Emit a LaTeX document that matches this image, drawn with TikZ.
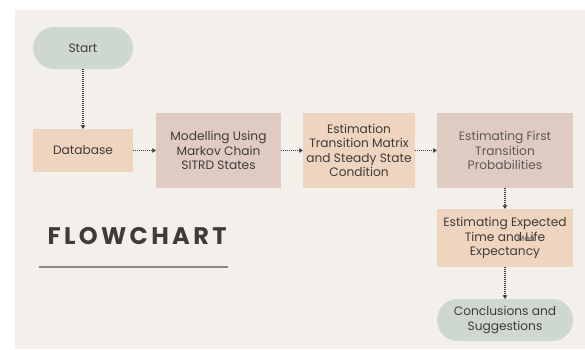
\documentclass[tikz,border=0pt]{standalone}
\usepackage{fontspec}
\setmainfont{Poppins}
\newfontfamily\titlefont[LetterSpace=14]{Poppins}
\usetikzlibrary{arrows.meta}
\definecolor{pagebg}{HTML}{F3EFEA}
\definecolor{peach}{HTML}{EFD4BF}
\definecolor{rose}{HTML}{E0CBC2}
\definecolor{sage}{HTML}{CED8CF}
\definecolor{ink}{HTML}{3E3C3A}
\definecolor{softink}{HTML}{5C5957}
\definecolor{rulegray}{HTML}{8A8886}
\begin{document}
\begin{tikzpicture}[x=1pt,y=-1pt,
  box/.style={rectangle, inner sep=0pt, align=center, text=ink,
    font=\fontsize{12.2}{14.4}\selectfont},
  terminal/.style={box, fill=sage, rounded corners=21pt},
  flow/.style={draw=ink, line width=1.1pt, dash pattern=on 1pt off 1pt,
    -{Triangle[length=3.5pt,width=4.5pt]}}]
  % page and panel
  \fill[white] (0,0) rectangle (585,349);
  \useasboundingbox (0,0) rectangle (585,349);
  \fill[pagebg] (15,10) rectangle (585,349);

  % process steps
  \node[terminal, minimum width=100pt, minimum height=42pt] (start) at (83,48) {Start};
  \node[box, fill=peach, minimum width=100pt, minimum height=43pt] (db) at (83,150.5) {Database};
  \node[box, fill=rose, minimum width=125pt, minimum height=75pt] (model) at (218.5,150.5)
    {Modelling Using\\Markov Chain\\SITRD States};
  \node[box, fill=peach, minimum width=112pt, minimum height=75pt] (estm) at (359,150.5)
    {Estimation\\Transition Matrix\\and Steady State\\Condition};
  \node[box, fill=rose, text=softink, minimum width=136pt, minimum height=75pt] (first) at (505,150.5)
    {Estimating First\\Transition\\Probabilities};
  \node[box, fill=peach, minimum width=136pt, minimum height=58pt] (expt) at (505,238)
    {Estimating Expected\\Time and Life\\Expectancy};
  % small overprinted word on the middle line
  \node[font=\fontsize{8}{9}\selectfont, text=softink, inner sep=0pt] (mea) at (526,238.5) {Mea};
  \node[terminal, minimum width=136pt, minimum height=42pt] (concl) at (505,320)
    {Conclusions and\\Suggestions};

  % connectors
  \draw[flow] (start) -- (db);
  \draw[flow] (db) -- (model);
  \draw[flow] (model) -- (estm);
  \draw[flow] (estm) -- (first);
  \draw[flow] (first) -- (expt);
  \draw[flow] (expt) -- (concl);

  % title with underline
  \node[font=\titlefont\bfseries\fontsize{24}{27}\selectfont, text=ink, inner sep=0pt] (title) at (137,236) {FLOWCHART};
  \coordinate (ruleL) at (39,267);
  \coordinate (ruleR) at (228,267);
  \draw[rulegray, line width=1.2pt] (ruleL) -- (ruleR);
\end{tikzpicture}
\end{document}
